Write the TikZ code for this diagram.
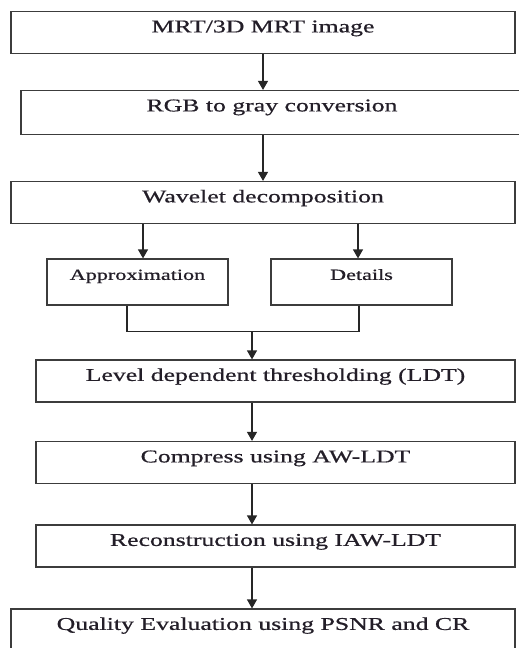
\documentclass[tikz,border=0pt]{standalone}
\usepackage{fontspec}
\setmainfont[FakeBold=0.6]{Liberation Serif}
\usetikzlibrary{arrows.meta}
\definecolor{boxline}{RGB}{60,60,60}
\definecolor{txt}{RGB}{35,30,40}
\newcommand{\wide}[1]{\scalebox{1.43}[1]{#1}}
\begin{document}
\begin{tikzpicture}[x=1pt,y=-1pt]
\tikzset{
  stepbox/.style args={#1/#2}{draw=boxline, line width=1.2pt, rectangle, inner sep=0pt,
    minimum width=#1pt, minimum height=#2pt},
  lbl/.style={anchor=base, yshift=-21.5pt, inner sep=0pt, text=txt,
    font=\fontsize{18}{20}\selectfont},
  slbl/.style={anchor=base, yshift=-21.5pt, inner sep=0pt, text=txt,
    font=\fontsize{15.5}{17}\selectfont},
  arr/.style={draw=black!85, line width=1.2pt, -{Triangle[width=10pt,length=9pt]}},
  link/.style={draw=black!85, line width=1.2pt},
}
\useasboundingbox (0,0) rectangle (519,648);
\fill[white] (0,0) rectangle (519,648);

\node[stepbox=504/42, label={[lbl]north:\wide{MRT/3D MRT image}}] (b1) at (263,32.5) {};
\node[stepbox=502/44, label={[lbl]north:\wide{RGB to gray conversion}}] (b2) at (272,112.5) {};
\node[stepbox=504/42, label={[lbl]north:\wide{Wavelet decomposition}}] (b3) at (263,202.5) {};
\node[stepbox=181/46, label={[slbl]north:\wide{Approximation}}] (ap) at (137.5,282) {};
\node[stepbox=181/46, label={[slbl]north:\wide{Details}}] (de) at (361.5,282) {};
\node[stepbox=479/42, label={[lbl]north:\wide{Level dependent thresholding (LDT)}}] (b4) at (275.5,381) {};
\node[stepbox=479/42, label={[lbl]north:\wide{Compress using AW-LDT}}] (b5) at (275.5,462.5) {};
\node[stepbox=479/42, label={[lbl]north:\wide{Reconstruction using IAW-LDT}}] (b6) at (275.5,546) {};
\node[stepbox=504/52, label={[lbl]north:\wide{Quality Evaluation using PSNR and CR}}] (b7) at (263,635) {};

\coordinate (j) at (252,331.7);

\draw[arr] (b1.south) -- (b1.south |- b2.north);
\draw[arr] (b2.south -| b1.south) -- (b3.north);
\draw[arr] ([xshift=5.5pt]ap.north |- b3.south) -- ([xshift=5.5pt]ap.north);
\draw[arr] ([xshift=-3.5pt]de.north |- b3.south) -- ([xshift=-3.5pt]de.north);
\draw[link] ([xshift=-10.5pt]ap.south) |- (j) -| ([xshift=-2.5pt]de.south);
\draw[arr] (j) -- (j |- b4.north);
\draw[arr] (b4.south -| j) -- (b5.north -| j);
\draw[arr] (b5.south -| j) -- (b6.north -| j);
\draw[arr] (b6.south -| j) -- (b7.north -| j);
\end{tikzpicture}
\end{document}
